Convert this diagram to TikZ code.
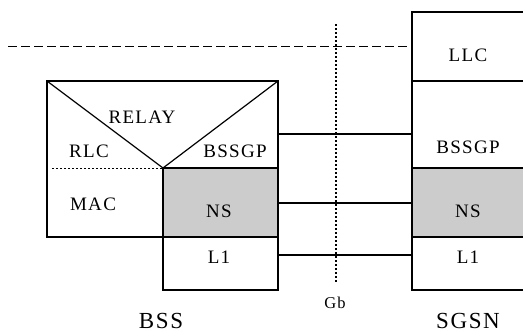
\documentclass[tikz,border=0pt]{standalone}
\usepackage{fontspec}
\setmainfont{Liberation Serif}[LetterSpace=7]
\usepackage{tikz}
\definecolor{nsgray}{gray}{0.8}

\begin{document}
\begin{tikzpicture}
      [x=1pt,y=-1pt,line width=1.2pt,
       label text/.style={font=\fontsize{19}{19}\selectfont,anchor=base,inner sep=0pt},
       side text/.style={font=\fontsize{23}{23}\selectfont,anchor=base,inner sep=0pt}]
        \useasboundingbox (0,0) rectangle (523,332);

        % BSS stack
        \fill[nsgray] (163,168) rectangle (278,237);
        \draw (47,81) rectangle (278,237);
        \draw (47,81) -- (163,168) -- (278,81);
        \draw (163,168) rectangle (278,290);
        \draw (163,237) -- (278,237);
        \draw[line width=0.7pt,dash pattern=on 2pt off 2pt] (52,168) -- (163,168);

        % SGSN stack
        \fill[nsgray] (412,168) rectangle (540,237);
        \draw (412,12) rectangle (540,290);
        \draw (412,81) -- (540,81);
        \draw (412,168) -- (540,168);
        \draw (412,237) -- (540,237);

        % interface lines
        \draw[line width=0.8pt,dash pattern=on 9pt off 4pt] (8,46) -- (412,46);
        \draw[dash pattern=on 1.5pt off 2.5pt] (336,24) -- (336,284);

        \node[label text] (relay) at (142,123) {RELAY};
        \node[label text] (rlc) at (89,157) {RLC};
        \node[label text] (bssgpA) at (235,157) {BSSGP};
        \node[label text] (mac) at (93,210) {MAC};
        \node[label text] (nsA) at (219,217) {NS};
        \node[label text] (lA) at (219,263) {L1};

        \node[label text] (llc) at (468,61) {LLC};
        \node[label text] (bssgpB) at (468,153) {BSSGP};
        \node[label text] (nsB) at (468,217) {NS};
        \node[label text] (lB) at (468,263) {L1};

        \node[font=\fontsize{16.5}{16.5}\selectfont,anchor=base,inner sep=0pt] (gb) at (335,308) {Gb};
        \node[side text] (bss) at (161,328) {BSS};
        \node[side text] (sgsn) at (468,328) {SGSN};

        \coordinate (a1) at (278,134);
        \coordinate (b1) at (412,134);
        \coordinate (a2) at (278,203);
        \coordinate (b2) at (412,203);
        \coordinate (a3) at (278,255);
        \coordinate (b3) at (412,255);

        \draw (a1) -- (b1);
        \draw (a2) -- (b2);
        \draw (a3) -- (b3);

      \end{tikzpicture}
\end{document}
